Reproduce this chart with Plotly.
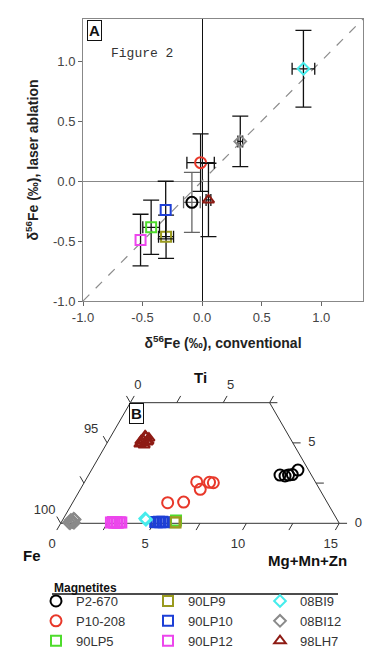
import numpy as np
import plotly.graph_objects as go

FONT = "Arial, Liberation Sans, sans-serif"
PAGE_W, PAGE_H = 392, 649
OFF = 8                      # default body margin of the page
W, H = PAGE_W - OFF, PAGE_H - OFF


def px(x):      # page pixel -> paper x
    return (x - OFF) / W


def py(y):      # page pixel -> paper y
    return 1 - (y - OFF) / H


# ---------------- Panel A data ----------------
samples = ["P2-670", "P10-208", "90LP5", "90LP9", "90LP10", "90LP12", "08BI9", "08BI12", "98LH7"]
conv = [-0.086, -0.013, -0.428, -0.303, -0.306, -0.517, 0.85, 0.32, 0.053]
conv_err = [0.07, 0.115, 0.07, 0.063, 0.0, 0.0, 0.095, 0.02, 0.02]
laser = [-0.178, 0.153, -0.386, -0.464, -0.242, -0.492, 0.935, 0.33, -0.158]
laser_err = [0.25, 0.24, 0.226, 0.18, 0.24, 0.215, 0.32, 0.21, 0.306]
one_to_one = [-1.0, 1.35]
a_ticks = [-1.0, -0.5, 0.0, 0.5, 1.0]
a_ticktext = ["-1.0", "-0.5", "0.0", "0.5", "1.0"]

# ---------------- Panel B data (Ti, Mg+Mn+Zn; Fe = remainder, wt-%) ----------------
ti_P2_670 = [3.00, 2.94, 3.00, 3.03, 3.31]
mmz_P2_670 = [10.31, 10.61, 10.77, 10.96, 11.12]
ti_P10_208 = [1.28, 1.32, 2.11, 2.57, 2.55, 2.52]
mmz_P10_208 = [5.12, 5.96, 6.46, 6.04, 6.74, 6.96]
ti_90LP5 = [0.18]
mmz_90LP5 = [6.12]
ti_90LP9 = [0.06, 0.05]
mmz_90LP9 = [6.10, 6.16]
ti_90LP10 = [0.08, 0.06, 0.10, 0.07, 0.09, 0.06]
mmz_90LP10 = [5.05, 5.14, 5.24, 5.33, 5.43, 5.52]
ti_90LP12 = [0.05, 0.08, 0.03, 0.06, 0.04, 0.07, 0.05]
mmz_90LP12 = [2.68, 2.77, 2.87, 2.96, 3.05, 3.15, 3.24]
ti_08BI9 = [0.30, 0.22]
mmz_08BI9 = [4.40, 4.48]
ti_08BI12 = [0.05, 0.20, 0.00, 0.15, 0.08, 0.24, 0.03, 0.12, 0.28]
mmz_08BI12 = [0.42, 0.45, 0.50, 0.55, 0.60, 0.63, 0.70, 0.47, 0.56]
ti_98LH7 = [4.93, 5.18, 5.37, 5.30, 5.06, 4.87, 5.12, 5.43, 5.12, 4.99]
mmz_98LH7 = [1.80, 1.84, 1.91, 2.10, 2.12, 2.06, 1.76, 1.83, 2.14, 1.88]

fe_min = 85.0
ti_max = 7.5
bottom_ticks = [0, 2.5, 5, 7.5, 10, 12.5, 15]        # Mg+Mn+Zn
bottom_labels = [0, 5, 10, 15]
left_ticks = [100, 97.5, 95, 92.5]                    # Fe
left_labels = [100, 95]
right_ticks = [0, 2.5, 5, 7.5]                        # Ti
right_labels = [0, 5]
top_ticks = [0, 2.5, 5, 7.5]
top_labels = [0, 5]

tern_ti = [ti_P2_670, ti_P10_208, ti_90LP5, ti_90LP9, ti_90LP10, ti_90LP12, ti_08BI9, ti_08BI12, ti_98LH7]
tern_mmz = [mmz_P2_670, mmz_P10_208, mmz_90LP5, mmz_90LP9, mmz_90LP10, mmz_90LP12, mmz_08BI9, mmz_08BI12, mmz_98LH7]

# ---------------- styles ----------------
colors = ["#000000", "#E8382A", "#4EDC2C", "#9A9A1E", "#1D3FD6", "#EC46EC", "#46ECEC", "#8A8A8A", "#8E1B14"]
symbols = ["circle-open", "circle-open", "square-open", "square-open", "square-open", "square-open",
           "diamond-open", "diamond-open", "triangle-up-open"]
msize = [11, 11, 10, 10, 10, 10, 9, 9, 10]
err_colors = ["#666666", "#111111", "#111111", "#111111", "#111111", "#111111", "#111111", "#111111", "#111111"]
legend_rank = [1, 4, 7, 2, 5, 8, 3, 6, 9]

S3 = np.sqrt(3) / 2
B_SCALE = 18.57                 # px per composition unit
B_X0, B_Y0 = 60.7, 523.3        # page pixel of the Fe = 100 corner


def tern_xy(ti, mmz):
    ti = np.asarray(ti, dtype=float)
    mmz = np.asarray(mmz, dtype=float)
    return mmz + ti / 2, ti * S3


fig = go.Figure()

# ---------------- Panel A ----------------
fig.add_trace(go.Scatter(x=one_to_one, y=one_to_one, mode="lines",
                         line=dict(color="#8c8c8c", width=1.2, dash="dash"),
                         showlegend=False, hoverinfo="skip", xaxis="x", yaxis="y"))

for i, s in enumerate(samples):
    fig.add_trace(go.Scatter(
        x=[conv[i]], y=[laser[i]], mode="markers", name=s, legendgroup=s, showlegend=False,
        marker=dict(symbol=symbols[i], size=msize[i], color=colors[i], line=dict(width=2, color=colors[i])),
        error_x=dict(type="data", array=[conv_err[i]], visible=conv_err[i] > 0,
                     color=err_colors[i], thickness=1.3, width=6),
        error_y=dict(type="data", array=[laser_err[i]], color=err_colors[i], thickness=1.3, width=8),
        xaxis="x", yaxis="y"))

# ---------------- Panel B frame ----------------
frame_ti = [0, ti_max, ti_max, 0, 0]
frame_mmz = [0, 0, 100 - fe_min - ti_max, 100 - fe_min, 0]
fx, fy = tern_xy(frame_ti, frame_mmz)
fig.add_trace(go.Scatter(x=fx, y=fy, mode="lines", line=dict(color="#333333", width=1),
                         showlegend=False, hoverinfo="skip", xaxis="x2", yaxis="y2"))

TL = 0.42
tick_x, tick_y = [], []


def add_ticks(ti_list, mmz_list, dx, dy):
    qx, qy = tern_xy(ti_list, mmz_list)
    for a, b in zip(qx, qy):
        tick_x.extend([a, a + dx * TL, None])
        tick_y.extend([b, b + dy * TL, None])


add_ticks([0] * len(bottom_ticks), bottom_ticks, -0.5, -S3)
add_ticks([100 - f for f in left_ticks], [0] * len(left_ticks), -0.5, S3)
add_ticks(right_ticks, [100 - fe_min - t for t in right_ticks], 1.0, 0.0)
add_ticks([ti_max] * len(top_ticks), top_ticks, 0.5, S3)
fig.add_trace(go.Scatter(x=tick_x, y=tick_y, mode="lines", line=dict(color="#333333", width=1),
                         showlegend=False, hoverinfo="skip", xaxis="x2", yaxis="y2"))

# ---------------- Panel B tick labels (text trace) ----------------
lab_x, lab_y, lab_t = [], [], []


def add_labels(ti_list, mmz_list, texts, ox_px, oy_px):
    qx, qy = tern_xy(ti_list, mmz_list)
    for a, b, t in zip(qx, qy, texts):
        lab_x.append(a + ox_px / B_SCALE)
        lab_y.append(b + oy_px / B_SCALE)
        lab_t.append(str(t))


add_labels([0] * len(bottom_labels), bottom_labels, bottom_labels, -8.5, -21)
add_labels([100 - f for f in left_labels], [0] * len(left_labels), left_labels, -16, 13)
add_labels(right_labels, [100 - fe_min - t for t in right_labels], right_labels, 19, 0)
add_labels([ti_max] * len(top_labels), top_labels, top_labels, 7.5, 17)
fig.add_trace(go.Scatter(x=lab_x, y=lab_y, text=lab_t, mode="text", textposition="middle center",
                         textfont=dict(size=13, color="#333333", family=FONT),
                         showlegend=False, hoverinfo="skip", xaxis="x2", yaxis="y2"))

# ---------------- Panel B data ----------------
for i, s in enumerate(samples):
    bx, by = tern_xy(tern_ti[i], tern_mmz[i])
    fe = [100 - t - m for t, m in zip(tern_ti[i], tern_mmz[i])]
    fig.add_trace(go.Scatter(
        x=bx, y=by, mode="markers", name=s, legendgroup=s, legendrank=legend_rank[i],
        customdata=np.column_stack([fe, tern_ti[i], tern_mmz[i]]),
        hovertemplate="Fe %{customdata[0]:.1f}<br>Ti %{customdata[1]:.2f}<br>Mg+Mn+Zn %{customdata[2]:.2f}<extra>" + s + "</extra>",
        marker=dict(symbol=symbols[i], size=msize[i], color=colors[i], line=dict(width=2, color=colors[i])),
        xaxis="x2", yaxis="y2"))

# ---------------- annotations ----------------
ann = []


def pann(xp, yp, text, size=15, **kw):
    d = dict(x=px(xp), y=py(yp), xref="paper", yref="paper", text=text, showarrow=False,
             xanchor="center", yanchor="middle", font=dict(size=size, color="#111111"))
    d.update(kw)
    ann.append(d)


pann(200, 378, "<b>Ti</b>")
pann(32, 555, "<b>Fe</b>")
pann(307, 560, "<b>Mg+Mn+Zn</b>")
pann(94, 30, "<b>A</b>", bordercolor="#111111", borderwidth=1, borderpad=1, bgcolor="white")
pann(136.5, 413, "<b>B</b>", bordercolor="#111111", borderwidth=1, borderpad=1, bgcolor="white")
pann(142, 53, "Figure 2",
     font=dict(size=13, color="#333333", family="Liberation Mono, Courier New, monospace"))
ann.append(dict(x=px(52), y=py(588), xref="paper", yref="paper", text="<b>Magnetites</b>",
                showarrow=False, xanchor="left", yanchor="middle", font=dict(size=12, color="#111111")))

axis_font = dict(size=13, color="#444444", family=FONT)
title_font = dict(size=14, color="#222222", family=FONT)

b_top, b_bot = 350, 590   # page pixel band for the ternary panel

fig.update_layout(
    width=W, height=H, margin=dict(l=0, r=0, t=0, b=0, autoexpand=False),
    paper_bgcolor="white", plot_bgcolor="white",
    font=dict(family=FONT),
    xaxis=dict(domain=[px(83), px(363)], range=[-1.0, 1.35], tickvals=a_ticks, ticktext=a_ticktext,
               ticks="outside", ticklen=4, tickcolor="#666666", showline=True, linecolor="#888888",
               mirror=True, showgrid=False, zeroline=True, zerolinecolor="#111111", zerolinewidth=1.3,
               tickfont=axis_font, automargin=False, anchor="y",
               title=dict(text="<b>δ<sup>56</sup>Fe (‰), conventional</b>", font=title_font, standoff=14)),
    yaxis=dict(domain=[py(301), py(19)], range=[-1.0, 1.35], tickvals=a_ticks, ticktext=a_ticktext,
               ticks="outside", ticklen=4, tickcolor="#666666", showline=True, linecolor="#888888",
               mirror=True, showgrid=False, zeroline=True, zerolinecolor="#888888", zerolinewidth=1.3,
               tickfont=axis_font, automargin=False, anchor="x",
               title=dict(text="<b>δ<sup>56</sup>Fe (‰), laser ablation</b>", font=title_font, standoff=11)),
    xaxis2=dict(domain=[0, 1], range=[(OFF - B_X0) / B_SCALE, (PAGE_W - B_X0) / B_SCALE],
                visible=False, anchor="y2", fixedrange=True),
    yaxis2=dict(domain=[py(b_bot), py(b_top)], range=[(B_Y0 - b_bot) / B_SCALE, (B_Y0 - b_top) / B_SCALE],
                visible=False, anchor="x2", fixedrange=True),
    annotations=ann,
    shapes=[dict(type="line", xref="paper", yref="paper", x0=px(52), x1=px(338),
                 y0=py(594), y1=py(594), line=dict(color="#111111", width=1.5))],
    legend=dict(orientation="h", x=px(36), xanchor="left", y=py(586), yanchor="top",
                entrywidth=67, entrywidthmode="pixels", traceorder="normal",
                font=dict(size=13, color="#333333", family=FONT), bgcolor="rgba(0,0,0,0)"),
)

fig.write_html("out.html")
